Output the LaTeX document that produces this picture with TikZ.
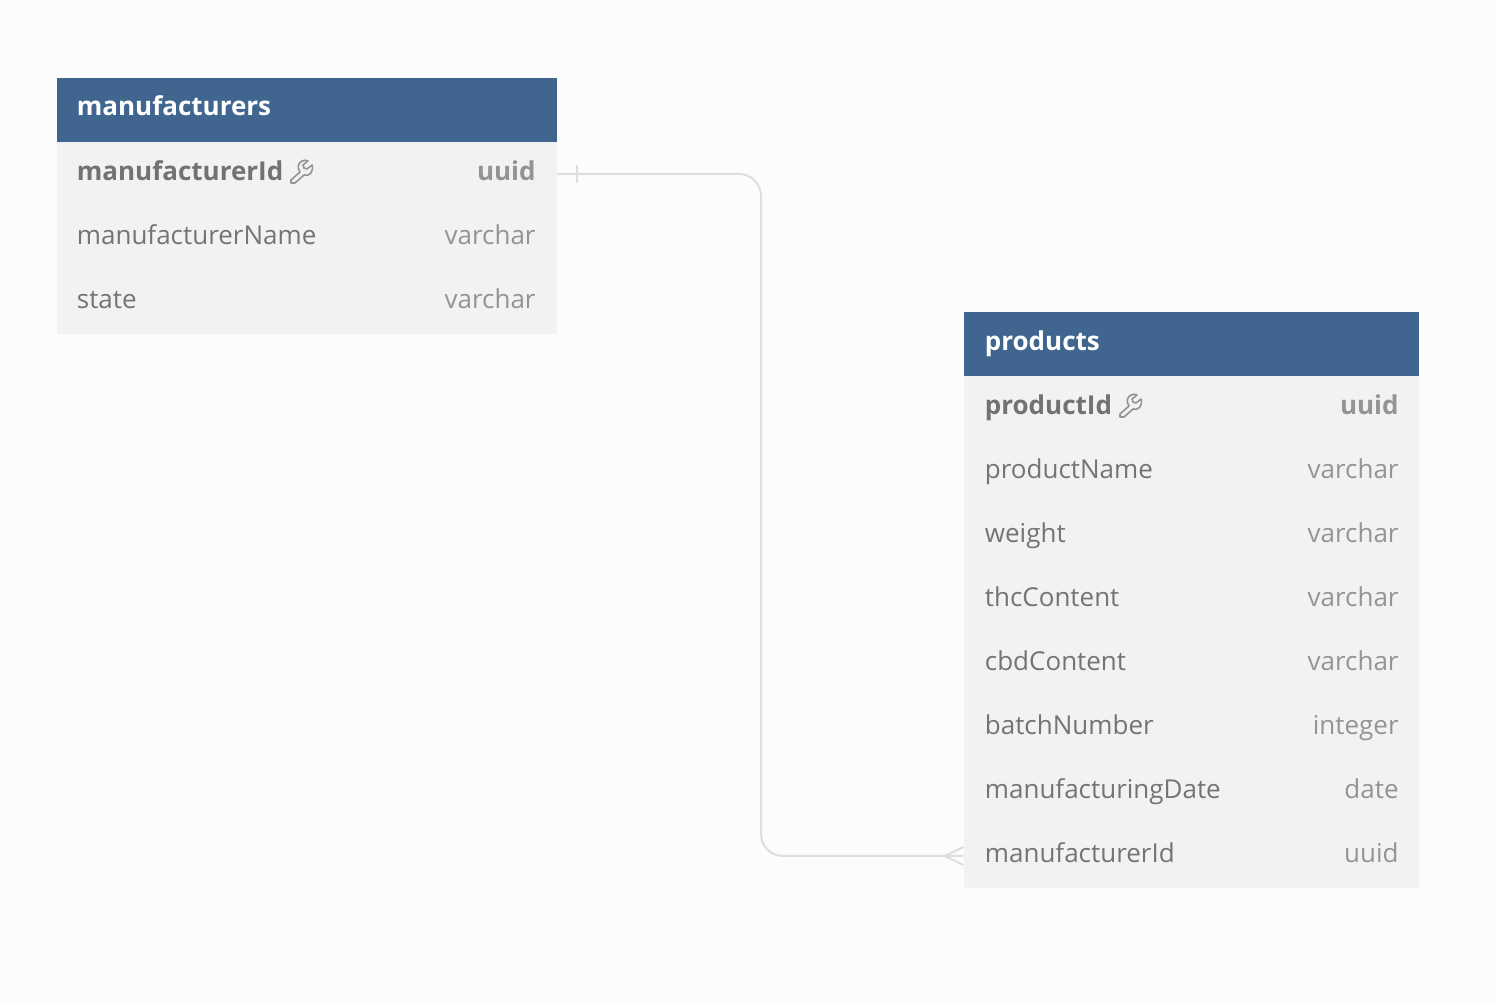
\documentclass[tikz,border=0pt]{standalone}
\usepackage{fontspec}
\setmainfont{Open Sans}
\definecolor{pagebg}{HTML}{FCFCFC}
\definecolor{rowbg}{HTML}{F2F2F2}
\definecolor{headbg}{HTML}{406690}
\definecolor{pkgray}{HTML}{727272}
\definecolor{namegray}{HTML}{747474}
\definecolor{typegray}{HTML}{949494}
\definecolor{linkgray}{HTML}{DEDEDE}
\tikzset{
  headbox/.style={fill=headbg, inner sep=0, minimum height=32pt},
  rowbox/.style={fill=rowbg, inner sep=0, minimum height=32pt},
  headtext/.style={anchor=base west, inner sep=0, text=white, font=\fontsize{13}{15}\selectfont\bfseries},
  pkname/.style={anchor=base west, inner sep=0, text=pkgray, font=\fontsize{13}{15}\selectfont\bfseries},
  pktype/.style={anchor=base east, inner sep=0, text=typegray, font=\fontsize{13}{15}\selectfont\bfseries},
  colname/.style={anchor=base west, inner sep=0, text=namegray, font=\fontsize{13}{15}\selectfont},
  coltype/.style={anchor=base east, inner sep=0, text=typegray, font=\fontsize{13}{15}\selectfont},
  keyicon/.style={draw=typegray, line width=0.8pt, line join=round},
  link/.style={draw=linkgray, line width=1pt}
}
\newcommand{\keyglyph}[1]{%
  \draw[keyicon, shift={(#1)}] (1,-10) .. controls (-3,-8) and (-4,-3) .. (-1,1)
    -- (-10,9) -- (-10,12) -- (-6,12) -- (3,4)
    .. controls (8,6) and (13,1) .. (11,-6) -- (6,-2) -- (3,-3) -- (2,-6) -- (7,-10)
    .. controls (5,-11) and (3,-11) .. (1,-10) -- cycle;}

\begin{document}
\begin{tikzpicture}[x=0.5pt, y=-0.5pt]
\useasboundingbox (0, 0) rectangle (1496, 1004);
\fill [pagebg] (0, 0) rectangle (1496, 1004);

% Table manufacturers
\node [headbox, minimum width=250pt] (mfHead) at (306.5, 110) {};
\node [rowbox, minimum width=250pt] (mfId) at (306.5, 174) {};
\node [rowbox, minimum width=250pt] (mfName) at (306.5, 238) {};
\node [rowbox, minimum width=250pt] (mfState) at (306.5, 302) {};

\node [headtext] (mfTitle) at (76.5, 116) {manufacturers};
\node [pkname] (mfIdName) at (76.5, 180.5) {manufacturerId};
\node [pktype] (mfIdType) at (536, 180.5) {uuid};
\node [colname] (mfNameName) at (76.5, 244.5) {manufacturerName};
\node [coltype] (mfNameType) at (536, 244.5) {varchar};
\node [colname] (mfStateName) at (76.5, 308.5) {state};
\node [coltype] (mfStateType) at (536, 308.5) {varchar};
\keyglyph{301, 171}

% Table products
\node [headbox, minimum width=227.5pt] (pdHead) at (1191.5, 344) {};
\node [rowbox, minimum width=227.5pt] (pdId) at (1191.5, 408) {};
\node [rowbox, minimum width=227.5pt] (pdName) at (1191.5, 472) {};
\node [rowbox, minimum width=227.5pt] (pdWeight) at (1191.5, 536) {};
\node [rowbox, minimum width=227.5pt] (pdThc) at (1191.5, 600) {};
\node [rowbox, minimum width=227.5pt] (pdCbd) at (1191.5, 664) {};
\node [rowbox, minimum width=227.5pt] (pdBatch) at (1191.5, 728) {};
\node [rowbox, minimum width=227.5pt] (pdDate) at (1191.5, 792) {};
\node [rowbox, minimum width=227.5pt] (pdFk) at (1191.5, 856) {};

\node [headtext] (pdTitle) at (984.5, 350.5) {products};
\node [pkname] (pdIdName) at (984.5, 414.5) {productId};
\node [pktype] (pdIdType) at (1399, 414.5) {uuid};
\node [colname] (pdNameName) at (984.5, 478.5) {productName};
\node [coltype] (pdNameType) at (1399, 478.5) {varchar};
\node [colname] (pdWeightName) at (984.5, 542.5) {weight};
\node [coltype] (pdWeightType) at (1399, 542.5) {varchar};
\node [colname] (pdThcName) at (984.5, 606.5) {thcContent};
\node [coltype] (pdThcType) at (1399, 606.5) {varchar};
\node [colname] (pdCbdName) at (984.5, 670.5) {cbdContent};
\node [coltype] (pdCbdType) at (1399, 670.5) {varchar};
\node [colname] (pdBatchName) at (984.5, 734.5) {batchNumber};
\node [coltype] (pdBatchType) at (1399, 734.5) {integer};
\node [colname] (pdDateName) at (984.5, 798.5) {manufacturingDate};
\node [coltype] (pdDateType) at (1399, 798.5) {date};
\node [colname] (pdFkName) at (984.5, 862.5) {manufacturerId};
\node [coltype] (pdFkType) at (1399, 862.5) {uuid};
\keyglyph{1130, 405}

% Relation
\coordinate (bend) at (761, 500);
\draw [link, rounded corners=11pt] (mfId.east) -| (bend) |- (pdFk.west);

% One end
\draw [link] ([shift={(20, -9)}] mfId.east) -- ([shift={(20, 9)}] mfId.east);

% Many end
\draw [link] ([shift={(0, -9)}] pdFk.west) -- ([shift={(-19, 0)}] pdFk.west) -- ([shift={(0, 9)}] pdFk.west);
\end{tikzpicture}
\end{document}
